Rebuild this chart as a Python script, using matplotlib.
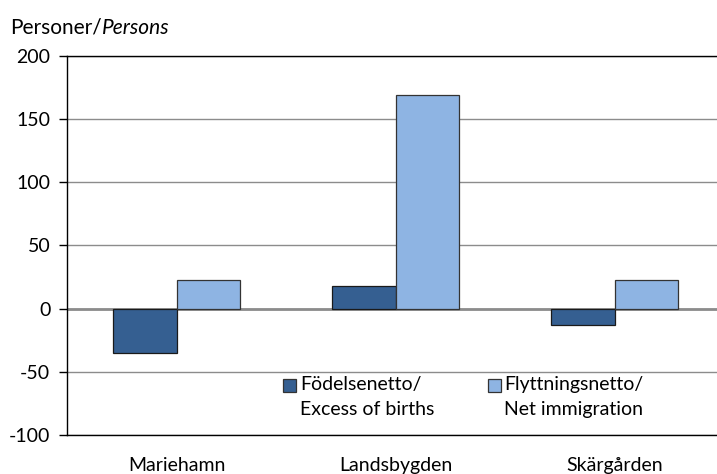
import matplotlib.pyplot as plt
from matplotlib.patches import Rectangle
import numpy as np

plt.rcParams['font.family'] = ['Lato', 'DejaVu Sans']

regions = ['Mariehamn', 'Landsbygden', 'Skärgården']
births = [-35, 18, -13]
migration = [23, 169, 23]
series_names = [('Födelsenetto/', 'Excess of births'), ('Flyttningsnetto/', 'Net immigration')]
yticks = [-100, -50, 0, 50, 100, 150, 200]

dark = '#355F91'
light = '#8EB4E3'
fs = 14

fig = plt.figure(figsize=(7.17, 4.74), dpi=100)
# axes right edge goes slightly past the figure like the original
ax = fig.add_axes([67 / 717, 1 - 435 / 474, (724 - 67) / 717, (435 - 56) / 474])

x = np.arange(len(regions))
w = 0.29
ax.bar(x - w / 2, births, w, color=dark, edgecolor='#1a1a1a', linewidth=0.9, zorder=3)
ax.bar(x + w / 2, migration, w, color=light, edgecolor='#333333', linewidth=0.9, zorder=3)

ax.set_xlim(-0.5, 2.5)
ax.set_ylim(-100, 200)
ax.set_yticks(yticks)
ax.set_yticklabels([str(v) for v in yticks])
ax.set_xticks(x)
ax.set_xticklabels(regions)

ax.grid(axis='y', color='#8c8c8c', linewidth=1.0, zorder=0)
ax.axhline(0, color='#8c8c8c', linewidth=2.0, zorder=2)

for s in ['left', 'bottom', 'top']:
    ax.spines[s].set_color('black')
    ax.spines[s].set_linewidth(1.0)
ax.spines['right'].set_visible(False)

ax.tick_params(axis='y', length=6, width=1, pad=6, labelsize=fs, color='black')
ax.tick_params(axis='x', length=0, pad=15.5, labelsize=fs)

t = fig.text(10 / 717, 1 - 28 / 474, 'Personer/', fontsize=15, va='center', ha='left')
ax.annotate('Persons', xy=(1, 0), xycoords=t, va='bottom', ha='left',
            fontsize=15, style='italic')

# legend drawn by hand so the marker sits on the first line
leg_pos = [(0.329, 0.3546), (0.6408, 0.665)]
for (mx, tx), (l1, l2), c in zip(leg_pos, series_names, [dark, light]):
    ax.add_patch(Rectangle((mx, 0.1135), 0.0198, 0.0343, transform=ax.transAxes,
                           facecolor=c, edgecolor='#333333', linewidth=0.9, zorder=5))
    ax.text(tx, 0.132, l1, transform=ax.transAxes, fontsize=fs, va='center', ha='left')
    ax.text(tx, 0.066, l2, transform=ax.transAxes, fontsize=fs, va='center', ha='left')

fig.savefig('out.png', dpi=100)
